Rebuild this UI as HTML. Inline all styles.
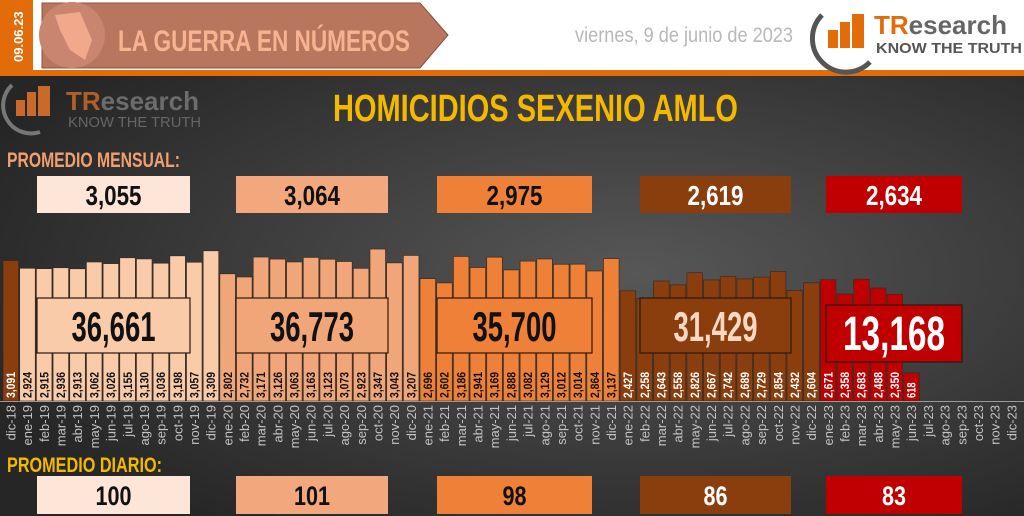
<!DOCTYPE html>
<html><head><meta charset="utf-8"><style>
body{margin:0;width:1024px;height:516px;overflow:hidden;background:#fff}
svg{display:block}
</style></head><body>
<svg id="s" width="1024" height="516" viewBox="0 0 1024 516" xmlns="http://www.w3.org/2000/svg" font-family="Liberation Sans Narrow, Liberation Sans, sans-serif">
<defs>
<radialGradient id="bg" cx="0.62" cy="0.45" r="0.7">
<stop offset="0" stop-color="#575757"/><stop offset="1" stop-color="#262626"/>
</radialGradient>
</defs>
<rect width="1024" height="70" fill="#fff"/>
<rect y="70" width="1024" height="6" fill="#e36c0a"/>
<rect y="76" width="1024" height="440" fill="url(#bg)"/>
<rect x="0" y="0" width="33" height="70" fill="#e36c0a"/>
<text transform="translate(23,62) rotate(-90)" font-size="13" font-weight="bold" fill="#fff">09.06.23</text>
<polygon points="42,3 420,3 448,35 420,68 42,68" fill="#b9765e" stroke="#8a5040" stroke-width="1"/>
<circle cx="72" cy="35" r="33" fill="#c98570"/>
<path d="M55,15 L80,12 L92,40 L85,60 L70,50 L60,30Z" fill="#f2a88a"/>
<text x="118" y="51" font-size="30" font-weight="bold" fill="#f7b28f" textLength="292" lengthAdjust="spacingAndGlyphs">LA GUERRA EN NÚMEROS</text>
<text x="575" y="42" font-size="21" fill="#b8b8b8" textLength="218" lengthAdjust="spacingAndGlyphs">viernes, 9 de junio de 2023</text>
<path d="M822,15 A30,30 0 0 0 870,62" fill="none" stroke="#555" stroke-width="5"/>
<rect x="828" y="30" width="10" height="18" fill="#e36c0a"/><rect x="840" y="22" width="10" height="26" fill="#e36c0a"/><rect x="852" y="14" width="12" height="34" fill="#e36c0a"/>
<text x="874" y="34" font-size="26" font-weight="bold" fill="#e36c0a" font-family="Liberation Sans, sans-serif">TR<tspan fill="#666">esearch</tspan></text>
<text x="876" y="53" font-size="15" font-weight="bold" fill="#555" font-family="Liberation Sans, sans-serif" textLength="146" lengthAdjust="spacingAndGlyphs">KNOW THE TRUTH</text>
<path d="M12,85 A28,28 0 0 0 40,132" fill="none" stroke="#777" stroke-width="4"/>
<rect x="16" y="100" width="9" height="16" fill="#c9692a"/><rect x="27" y="92" width="9" height="24" fill="#c9692a"/><rect x="38" y="86" width="12" height="30" fill="#c9692a"/>
<text x="66" y="110" font-size="26" font-weight="bold" fill="#c9692a" font-family="Liberation Sans, sans-serif" opacity="0.85">TR<tspan fill="#777">esearch</tspan></text>
<text x="68" y="127" font-size="15" fill="#666" font-family="Liberation Sans, sans-serif" textLength="133" lengthAdjust="spacingAndGlyphs">KNOW THE TRUTH</text>
<text x="333" y="121" font-size="38" font-weight="bold" fill="#f4b800" textLength="405" lengthAdjust="spacingAndGlyphs">HOMICIDIOS SEXENIO AMLO</text>
<text x="7" y="167" font-size="21" font-weight="bold" fill="#f0a070" textLength="173" lengthAdjust="spacingAndGlyphs">PROMEDIO MENSUAL:</text>
<text x="7" y="472" font-size="21" font-weight="bold" fill="#f4b800" textLength="155" lengthAdjust="spacingAndGlyphs">PROMEDIO DIARIO:</text>
<g id="bars"></g>
<line x1="0" y1="401.5" x2="1024" y2="401.5" stroke="#999" stroke-width="1"/>
</svg>
<script>
const v=[3091,2924,2915,2936,2913,3062,3026,3155,3130,3036,3198,3057,3309,2802,2732,3171,3126,3063,3163,3123,3073,2923,3347,3043,3207,2696,2602,3186,2941,3169,2888,3082,3129,3012,3014,2864,3137,2427,2258,2643,2558,2826,2667,2742,2689,2729,2854,2432,2604,2671,2358,2683,2488,2350,618];
const m=["ene","feb","mar","abr","may","jun","jul","ago","sep","oct","nov","dic"];
const cols=["#f9cba9","#f1a67a","#ee8038","#8b3e0d","#c00000"];
let h='';
for(let i=0;i<61;i++){
 const x=3+i*16.68;
 const yr=i==0?18:19+Math.floor((i-1)/12), mi=i==0?11:(i-1)%12;
 const lab=m[mi]+'-'+yr;
 h+=`<text transform="translate(${x+12.5},405) rotate(-90)" text-anchor="end" font-size="13" fill="#c4c4c4" font-family="Liberation Sans, sans-serif">${lab}</text>`;
 if(i<v.length){
  const c=i==0?"#8b3e0d":cols[yr-19];
  const bh=v[i]*0.0454, y=401-bh;
  h+=`<rect x="${x}" y="${y}" width="15.6" height="${bh}" fill="${c}" stroke="#3a2a20" stroke-width="0.7"/>`;
  const light=(i>0&&yr<=21);
  const t=v[i].toLocaleString('en-US');
  h+=`<text transform="translate(${x+12},398) rotate(-90)" font-size="12" font-weight="bold" fill="${light?'#111':'#fff'}" textLength="${t.length*5.2}" lengthAdjust="spacingAndGlyphs">${t}</text>`;
 }
}
const boxes=[[37,190,"#f9cba9","#111","36,661","3,055","100","#fde5d8"],[236,388,"#f1a67a","#111","36,773","3,064","101","#f3a77c"],[437,592,"#ee8038","#111","35,700","2,975","98","#ee8038"],[640,791,"#8b3e0d","#fbd9c4","31,429","2,619","86","#8b3e0d"],[826,962,"#c00000","#fff","13,168","2,634","83","#c00000"]];
boxes.forEach((b,k)=>{
 const big=k==4;
 const y0=big?305:298,hh=big?57:55;
 const cx=(b[0]+b[1])/2;
 h+=`<rect x="${b[0]}" y="${y0}" width="${b[1]-b[0]}" height="${hh}" fill="${b[2]}" stroke="#2a1a10" stroke-width="1.2"/>`;
 const bw=big?102:84;
 h+=`<text x="${cx-bw/2}" y="${y0+hh-12}" font-size="${big?48:42}" font-weight="bold" fill="${b[3]}" textLength="${bw}" lengthAdjust="spacingAndGlyphs">${b[4]}</text>`;
 const tf=k>=3?"#fff":"#111";
 h+=`<rect x="${b[0]}" y="176" width="${b[1]-b[0]}" height="37" fill="${b[7]}"/>`;
 h+=`<text x="${cx-28}" y="205" font-size="28" font-weight="bold" fill="${tf}" textLength="56" lengthAdjust="spacingAndGlyphs">${b[5]}</text>`;
 h+=`<rect x="${b[0]}" y="476" width="${b[1]-b[0]}" height="38" fill="${b[7]}"/>`;
 const w2=b[6].length*12;
 h+=`<text x="${cx-w2/2}" y="505" font-size="27" font-weight="bold" fill="${tf}" textLength="${w2}" lengthAdjust="spacingAndGlyphs">${b[6]}</text>`;
});
document.getElementById('bars').innerHTML=h;
</script>
</body></html>
